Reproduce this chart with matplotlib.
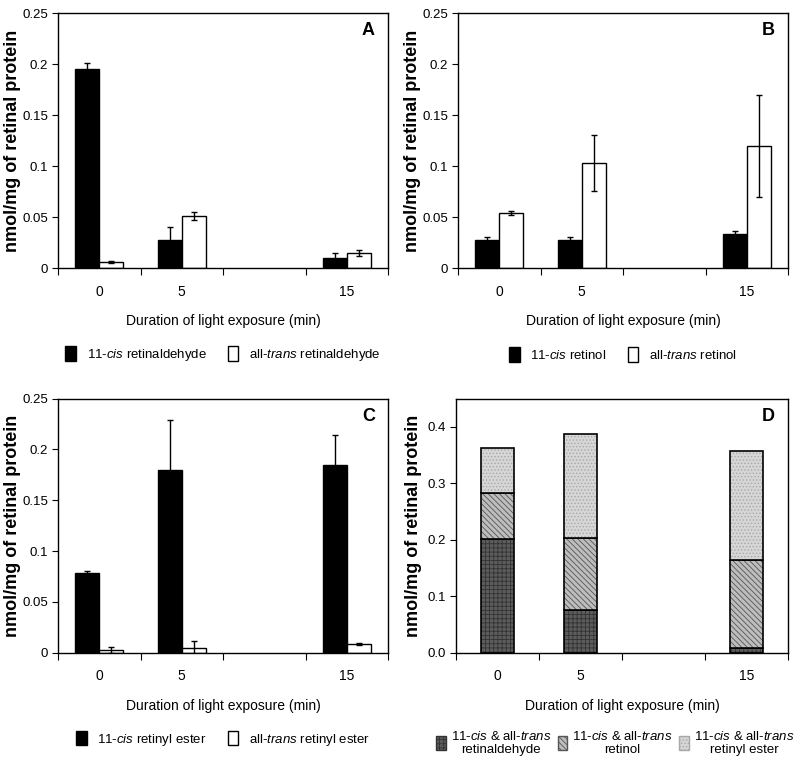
import matplotlib
matplotlib.use("Agg")
import matplotlib.pyplot as plt
from matplotlib.patches import Patch

plt.rcParams['font.family'] = ['Liberation Sans', 'DejaVu Sans']
plt.rcParams['mathtext.fontset'] = 'custom'
plt.rcParams['mathtext.rm'] = 'Liberation Sans'
plt.rcParams['mathtext.it'] = 'Liberation Sans:italic'
plt.rcParams['hatch.linewidth'] = 0.6

# x categories (the 10 min slot is empty)
categories = ['0', '5', '', '15']
times = ['0', '5', '15']

# Panel A: retinaldehyde
ald_cis = [0.195, 0.027, 0.010]
ald_cis_err = [0.006, 0.013, 0.005]
ald_trans = [0.006, 0.051, 0.015]
ald_trans_err = [0.001, 0.004, 0.003]

# Panel B: retinol
rol_cis = [0.027, 0.027, 0.033]
rol_cis_err = [0.003, 0.003, 0.003]
rol_trans = [0.054, 0.103, 0.120]
rol_trans_err = [0.002, 0.027, 0.050]

# Panel C: retinyl ester
est_cis = [0.078, 0.180, 0.185]
est_cis_err = [0.002, 0.049, 0.029]
est_trans = [0.003, 0.005, 0.009]
est_trans_err = [0.003, 0.007, 0.001]

# Panel D: stacked totals (cis + trans)
tot_ald = [0.201, 0.075, 0.009]
tot_rol = [0.081, 0.129, 0.155]
tot_est = [0.080, 0.183, 0.194]

pos = [categories.index(t) for t in times]

fig = plt.figure(figsize=(8, 7.68), dpi=100)
axA = fig.add_axes([0.0725, 0.651, 0.4125, 0.332])
axB = fig.add_axes([0.5725, 0.651, 0.4125, 0.332])
axC = fig.add_axes([0.0725, 0.150, 0.4125, 0.331])
axD = fig.add_axes([0.5700, 0.150, 0.4150, 0.331])


def style_axis(ax, letter, ylab_x):
    ax.set_xlim(-0.5, len(categories) - 0.5)
    ax.set_xticks([i - 0.5 for i in range(len(categories) + 1)])
    ax.set_xticklabels([])
    ax.set_xticks(range(len(categories)), minor=True)
    ax.set_xticklabels(categories, minor=True, fontsize=10)
    ax.tick_params(axis='x', which='minor', length=0, pad=12)
    ax.tick_params(axis='x', which='major', direction='out', length=5)
    ax.tick_params(axis='y', direction='out', length=4, labelsize=9.5, pad=3)
    for sp in ax.spines.values():
        sp.set_linewidth(1.0)
    ax.set_xlabel('Duration of light exposure (min)', fontsize=10, labelpad=11)
    ax.set_ylabel('nmol/mg of retinal protein', fontsize=13, fontweight='bold')
    ax.yaxis.set_label_coords(ylab_x, 0.5)
    ax.text(0.96, 0.93, letter, transform=ax.transAxes, ha='right', va='center',
            fontsize=13, fontweight='bold')


def pair_panel(ax, cis, cis_err, trans, trans_err, cis_label, trans_label, letter):
    w = 0.29
    ekw = dict(ecolor='black', elinewidth=1, capsize=2, capthick=1)
    ax.bar([p - w / 2 for p in pos], cis, w, yerr=cis_err, color='black',
           edgecolor='black', linewidth=1, error_kw=ekw, label=cis_label)
    ax.bar([p + w / 2 for p in pos], trans, w, yerr=trans_err, color='white',
           edgecolor='black', linewidth=1, error_kw=ekw, label=trans_label)
    ax.set_ylim(0, 0.25)
    ax.set_yticks([0, 0.05, 0.1, 0.15, 0.2, 0.25])
    ax.set_yticklabels(['0', '0.05', '0.1', '0.15', '0.2', '0.25'])
    style_axis(ax, letter, -0.113)
    ax.legend(loc='center', bbox_to_anchor=(0.5, -0.34), ncol=2, frameon=False,
              fontsize=9.5, handlelength=0.8, handleheight=1.3, columnspacing=1.6,
              handletextpad=0.8)


pair_panel(axA, ald_cis, ald_cis_err, ald_trans, ald_trans_err,
           r'11-$\mathit{cis}$ retinaldehyde', r'all-$\mathit{trans}$ retinaldehyde', 'A')
pair_panel(axB, rol_cis, rol_cis_err, rol_trans, rol_trans_err,
           r'11-$\mathit{cis}$ retinol', r'all-$\mathit{trans}$ retinol', 'B')
pair_panel(axC, est_cis, est_cis_err, est_trans, est_trans_err,
           r'11-$\mathit{cis}$ retinyl ester', r'all-$\mathit{trans}$ retinyl ester', 'C')

# Panel D: stacked bars with hatch fills
wd = 0.4
layers = [
    (tot_ald, '#5c5c5c', '#333333', '++++'),
    (tot_rol, '#bdbdbd', '#555555', '\\\\\\\\\\\\'),
    (tot_est, '#d6d6d6', '#a8a8a8', '.....'),
]
labels_D = [
    r'11-$\mathit{cis}$ & all-$\mathit{trans}$' + '\nretinaldehyde',
    r'11-$\mathit{cis}$ & all-$\mathit{trans}$' + '\nretinol',
    r'11-$\mathit{cis}$ & all-$\mathit{trans}$' + '\nretinyl ester',
]
bottom = [0.0, 0.0, 0.0]
handles = []
for (vals, face, hcol, hatch), lab in zip(layers, labels_D):
    axD.bar(pos, vals, wd, bottom=bottom, color=face, edgecolor=hcol,
            hatch=hatch, linewidth=0)
    axD.bar(pos, vals, wd, bottom=bottom, fill=False, edgecolor='black', linewidth=1.2)
    bottom = [b + v for b, v in zip(bottom, vals)]
    handles.append(Patch(facecolor=face, edgecolor=hcol, hatch=hatch, label=lab))
axD.set_ylim(0, 0.45)
axD.set_yticks([0, 0.1, 0.2, 0.3, 0.4])
axD.set_yticklabels(['0.0', '0.1', '0.2', '0.3', '0.4'])
style_axis(axD, 'D', -0.103)
legD = axD.legend(handles=handles, loc='center', bbox_to_anchor=(0.48, -0.355), ncol=3,
                  frameon=False, fontsize=9.5, handlelength=0.7, handleheight=1.3,
                  columnspacing=0.5, handletextpad=0.4)
for t in legD.get_texts():
    t.set_multialignment('center')

fig.savefig('out.png', dpi=100)
